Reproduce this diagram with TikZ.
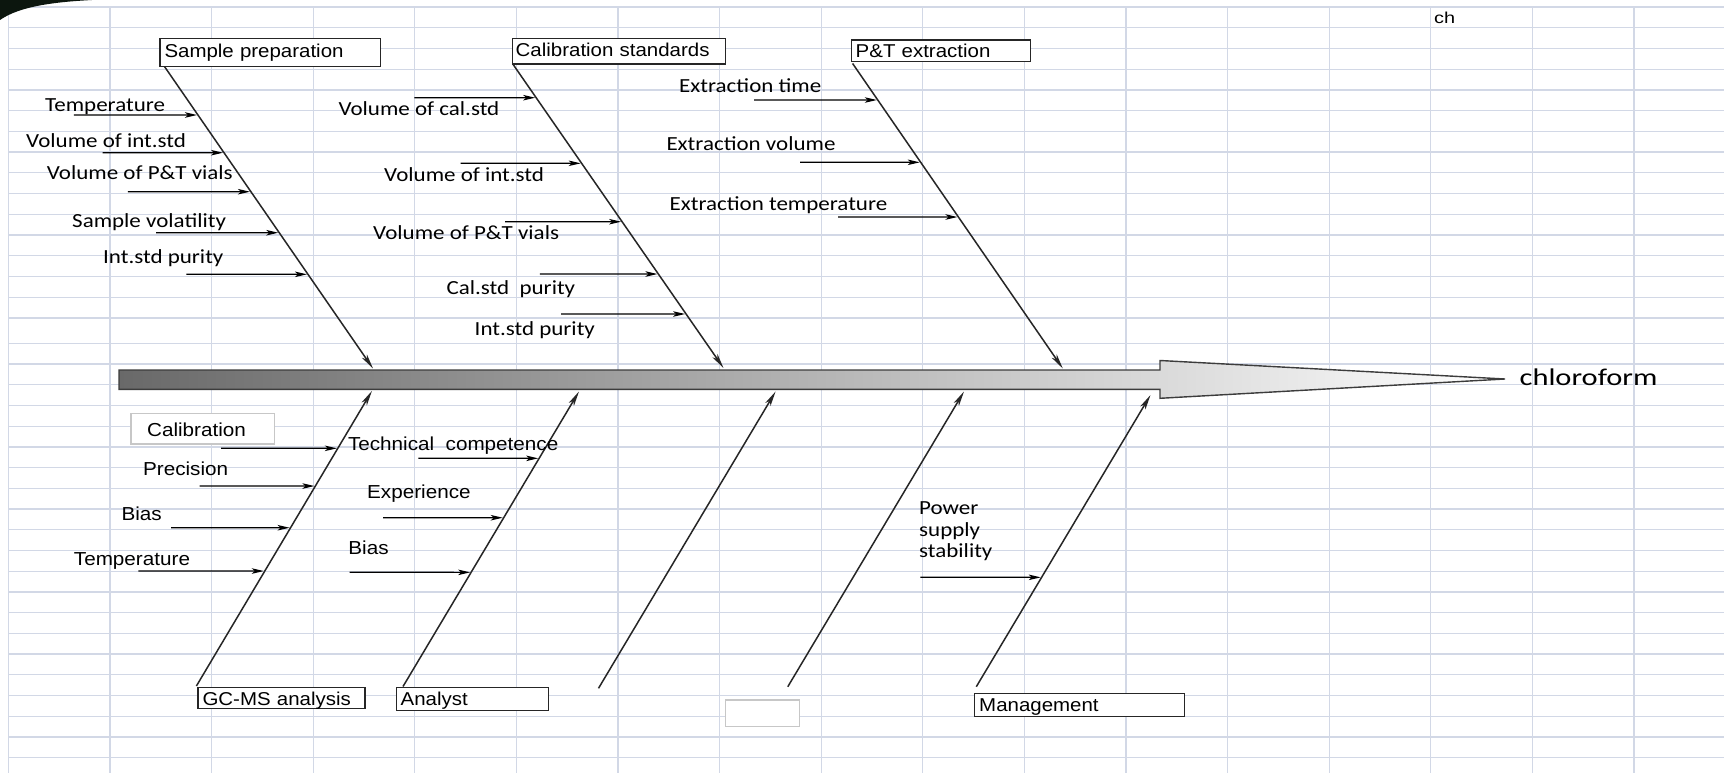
\documentclass[tikz,border=0pt]{standalone}
\usepackage{fontspec}
\setmainfont{Liberation Sans}
\newfontfamily\boxf{Liberation Sans}[FakeStretch=1.1]
\newfontfamily\carl{Carlito}[FakeStretch=1.15]
\newfontfamily\carlw{Carlito}[FakeStretch=1.27]
\newfontfamily\arw{Liberation Sans}[FakeStretch=1.26]
\usetikzlibrary{arrows.meta}

\definecolor{gridc}{RGB}{210,216,230}
\definecolor{outl}{RGB}{60,60,60}
\definecolor{darkg}{RGB}{105,105,105}
\definecolor{midg}{RGB}{200,200,200}
\definecolor{blob}{RGB}{12,22,14}

\tikzset{
 gridline/.style={draw=gridc, line width=1.3pt},
 bone/.style={draw=black!85, line width=1.5pt, -{Stealth[length=15pt,width=6pt,inset=4pt]}},
 sub/.style={draw=black, line width=1.2pt, -{Stealth[length=12pt,width=5.5pt,inset=3pt]}, shorten >=1pt},
 box/.style={draw=black!85, fill=white, line width=1.4pt, anchor=north west, inner ysep=0pt, align=left, font=\boxf\fontsize{18.6}{22}\selectfont},
 gbox/.style={box, draw=black!22},
 tl/.style={anchor=base west, inner sep=0pt, font=\carl\fontsize{20}{24}\selectfont},
 bl/.style={anchor=base west, inner sep=0pt, font=\boxf\fontsize{18.8}{24}\selectfont},
}

\newcommand\causearrow[4]{%
  \coordinate (#1s) at (#3,#4);
  \coordinate (#1r) at (1700,#4);
  \coordinate (#1e) at (intersection of #2s--#2e and #1s--#1r);
  \draw[sub] (#1s) -- (#1e);
}

\begin{document}
\begin{tikzpicture}[x=1pt,y=-1pt]
\useasboundingbox (0,0) rectangle (1724,773);
\fill[white] (0,0) rectangle (1724,773);
% spreadsheet grid
\foreach \k in {0,...,15} \draw[gridline] (8.4,{7+20.73*\k}) -- (1724,{7+20.73*\k});
\foreach \k in {0,...,20} \draw[gridline] (8.4,{343.3+20.72*\k}) -- (1724,{343.3+20.72*\k});
\foreach \k in {0,...,16} \draw[gridline] ({8.4+101.6*\k},7) -- ({8.4+101.6*\k},773);
\fill[blob] (0,0) -- (92,0) .. controls (55,2) and (20,6) .. (0,20) -- cycle;

% spine arrow
\path[draw=outl, line width=1.4pt, left color=darkg, middle color=midg, right color=white]
  (119,370) -- (1160,370) -- (1160,360.5) -- (1505,379) -- (1160,398.3) -- (1160,389.3) -- (119,389.3) -- cycle;
\node[anchor=base west, inner sep=0pt, font=\carlw\fontsize{24}{28}\selectfont] (effect) at (1519.4,385.5) {chloroform};
\node[anchor=base west, inner sep=0pt, font=\arw\fontsize{15.8}{18}\selectfont] (ch) at (1434,24) {ch};

% category boxes
\node[box, text width=211.6pt, inner xsep=4.6pt, text height=19pt, text depth=9.3pt] (sp) at (159.2,37.7) {Sample preparation};
\node[box, text width=206.7pt, inner xsep=3.3pt, text height=18.3pt, text depth=7.3pt] (cs) at (511.7,37.7) {Calibration standards};
\node[box, text width=170.5pt, inner xsep=4.5pt, text height=18pt, text depth=3.7pt] (pt) at (850.5,39.3) {P\&T extraction};
\node[box, text width=158pt, inner xsep=4.5pt, text height=17.6pt, text depth=3.4pt] (gc) at (197.3,686.7) {GC-MS analysis};
\node[box, text width=143.5pt, inner xsep=4.5pt, text height=18.3pt, text depth=5pt] (an) at (395.5,686.7) {Analyst};
\node[box, text width=201pt, inner xsep=4.5pt, text height=18pt, text depth=5.3pt] (mg) at (974,692.7) {Management};
\node[gbox, text width=111.3pt, inner xsep=16pt, text height=23.3pt, text depth=7.3pt, font=\boxf\fontsize{18.8}{22}\selectfont] (cal) at (130.4,412.7) {Calibration};
\node[gbox, minimum width=74pt, minimum height=26.7pt, inner sep=0pt] (blank) at (724.6,699.3) {};

% bones
\coordinate (b1s) at (164.6,66.7);  \coordinate (b1e) at (373,368.5);
\coordinate (b2s) at (513,64.3);    \coordinate (b2e) at (723.5,368);
\coordinate (b3s) at (852.6,63.5);  \coordinate (b3e) at (1062.8,368.5);
\coordinate (b4s) at (196.4,686);   \coordinate (b4e) at (371.9,391);
\coordinate (b5s) at (403,686.5);   \coordinate (b5e) at (579,391.5);
\coordinate (b6s) at (598.5,688.3); \coordinate (b6e) at (775.6,391.5);
\coordinate (b7s) at (787.8,686.7); \coordinate (b7e) at (964,391.5);
\coordinate (b8s) at (976.3,686.7); \coordinate (b8e) at (1150.5,395);
\foreach \b in {b1,b2,b3,b4,b5,b6,b7,b8} \draw[bone] (\b s) -- (\b e);

% Sample preparation
\node[tl] (c11) at (45,112) {Temperature};
\node[tl] (c12) at (26,147.7) {Volume of int.std};
\node[tl] (c13) at (46.7,179.3) {Volume of P\&T vials};
\node[tl] (c14) at (72,227.7) {Sample volatility};
\node[tl] (c15) at (103,263.3) {Int.std purity};
\causearrow{a11}{b1}{73.9}{115}
\causearrow{a12}{b1}{102.6}{152.7}
\causearrow{a13}{b1}{127.8}{191.7}
\causearrow{a14}{b1}{156}{232.7}
\causearrow{a15}{b1}{186.4}{274.3}

% Calibration standards
\node[tl] (c21) at (338.3,115.7) {Volume of cal.std};
\node[tl] (c22) at (384,181) {Volume of int.std};
\node[tl] (c23) at (373,239.3) {Volume of P\&T vials};
\node[tl] (c24) at (446.4,294.7) {Cal.std\ \ purity};
\node[tl] (c25) at (474.5,335) {Int.std purity};
\causearrow{a21}{b2}{414.3}{97.7}
\causearrow{a22}{b2}{460.7}{163.3}
\causearrow{a23}{b2}{505}{221.7}
\causearrow{a24}{b2}{539.8}{274}
\causearrow{a25}{b2}{561}{314}

% P&T extraction
\node[tl] (c31) at (679,92.7) {Extraction time};
\node[tl] (c32) at (666.3,150) {Extraction volume};
\node[tl] (c33) at (669.4,210.7) {Extraction temperature};
\causearrow{a31}{b3}{754}{100}
\causearrow{a32}{b3}{800}{162.3}
\causearrow{a33}{b3}{838}{217}

% GC-MS analysis
\node[bl] (c42) at (142.9,475) {Precision};
\node[bl] (c43) at (121.4,520) {Bias};
\node[bl] (c44) at (73.7,565) {Temperature};
\causearrow{a41}{b4}{221}{448.3}
\causearrow{a42}{b4}{199.6}{486}
\causearrow{a43}{b4}{171}{527.7}
\causearrow{a44}{b4}{138.4}{571}

% Analyst
\node[bl] (c51) at (347.8,450.7) {Technical\ \ competence};
\node[bl] (c52) at (367,498.3) {Experience};
\node[bl] (c53) at (348.2,554.3) {Bias};
\causearrow{a51}{b5}{418.3}{458.3}
\causearrow{a52}{b5}{383}{517.7}
\causearrow{a53}{b5}{349.6}{572.3}

% Management
\node[tl] (c81a) at (919,514) {Power};
\node[tl] (c81b) at (919,536) {supply};
\node[tl] (c81c) at (919,557.7) {stability};
\causearrow{a81}{b8}{920.4}{577.3}
\end{tikzpicture}
\end{document}
